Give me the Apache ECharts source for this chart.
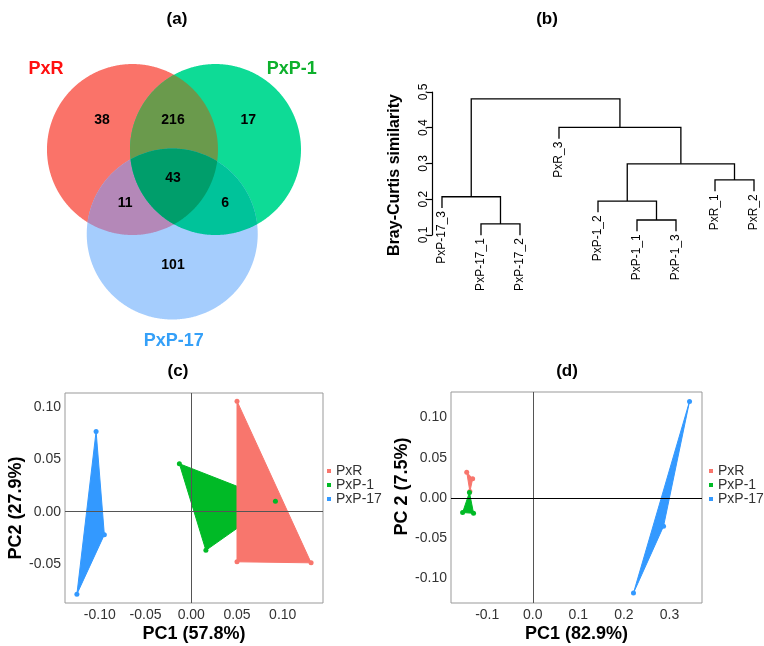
<!DOCTYPE html>
<html>
<head>
<meta charset="utf-8">
<title>Venn, dendrogram and PCA</title>
<script src="https://cdn.jsdelivr.net/npm/echarts@6.0.0/dist/echarts.min.js"></script>
<style>
    html, body { margin: 0; padding: 0; background: #fff; }
    #main { width: 764px; height: 646px; }
</style>
</head>
<body>
<div id="main"></div>
<script>
// (a) venn: shared species counts per region
const vennSets = ['PxR', 'PxP-1', 'PxP-17']
const vennRegionKeys = ['R', 'RG', 'G', 'RGB', 'RB', 'GB', 'B']
const vennCounts = [38, 216, 17, 43, 11, 6, 101]

// (b) dendrogram, leaves in plotted order, merges R hclust style (neg = leaf, pos = merge)
const leafLabels = ['PxP-17_3', 'PxP-17_1', 'PxP-17_2', 'PxR_3', 'PxP-1_2', 'PxP-1_1', 'PxP-1_3', 'PxR_1', 'PxR_2']
const mergeLeft = [-2, -6, -5, -1, -8, 3, -4, 4]
const mergeRight = [-3, -7, 2, 1, -9, 5, 6, 7]
const mergeHeight = [0.131, 0.142, 0.195, 0.207, 0.254, 0.299, 0.401, 0.481]
const similarityTicks = [0.1, 0.2, 0.3, 0.4, 0.5]

// (c) PCA
const groups = ['PxR', 'PxP-1', 'PxP-17']
const cPxR_PC1 = [0.050, 0.131, 0.050]
const cPxR_PC2 = [0.106, -0.049, -0.048]
const cP1_PC1 = [-0.013, 0.092, 0.016]
const cP1_PC2 = [0.046, 0.010, -0.037]
const cP17_PC1 = [-0.104, -0.095, -0.125]
const cP17_PC2 = [0.077, -0.022, -0.079]
const cTicksX = [-0.10, -0.05, 0, 0.05, 0.10]
const cTicksY = [-0.05, 0, 0.05, 0.10]

// (d) PCA
const dPxR_PC1 = [-0.145, -0.132, -0.138]
const dPxR_PC2 = [0.032, 0.024, 0.008]
const dP1_PC1 = [-0.139, -0.130, -0.154]
const dP1_PC2 = [0.007, -0.019, -0.018]
const dP17_PC1 = [0.344, 0.287, 0.221]
const dP17_PC2 = [0.120, -0.035, -0.118]
const dTicksX = [-0.1, 0, 0.1, 0.2, 0.3]
const dTicksY = [-0.10, -0.05, 0, 0.05, 0.10]

const FONT = 'Liberation Sans, Arial, sans-serif'
const groupColors = ['#F8766D', '#00BA26', '#3399FF']

// venn layout (unit radius circles)
const vennLayout = {
    R: [-0.474, 0.333],
    G: [0.497, 0.333],
    B: [-0.009, -0.655]
}
const vennLabelPos = [[-0.83, 0.68], [0, 0.68], [0.88, 0.68], [0, 0], [-0.56, -0.29], [0.61, -0.29], [0, -1.02]]
const vennNamePos = [[-1.485, 1.27], [1.39, 1.27], [0.01, -1.906]]
const vennNameColors = ['#FF1010', '#0DB02C', '#35A0F8']
const vennFill = {
    R: '#FA7369', G: '#0EDB96', B: '#A5CDFD',
    RG: '#6A9A4C', RB: '#B488B8', GB: '#00C39A', RGB: '#009E6B'
}

function inCircle(p, c) {
    return (p[0] - c[0]) ** 2 + (p[1] - c[1]) ** 2 <= 1 + 1e-9
}
// intersection of several unit circles as a convex polygon
function circleIntersection(keys) {
    const cs = keys.map(k => vennLayout[k])
    let pts = []
    cs.forEach((c, i) => {
        for (let k = 0; k < 720; k++) {
            const a = Math.PI * 2 * k / 720
            const p = [c[0] + Math.cos(a), c[1] + Math.sin(a)]
            if (cs.every((o, j) => j === i || inCircle(p, o))) pts.push(p)
        }
    })
    for (let i = 0; i < cs.length; i++) {
        for (let j = i + 1; j < cs.length; j++) {
            const a = cs[i], b = cs[j]
            const dx = b[0] - a[0], dy = b[1] - a[1]
            const d = Math.sqrt(dx * dx + dy * dy)
            const h = Math.sqrt(1 - d * d / 4)
            const mx = (a[0] + b[0]) / 2, my = (a[1] + b[1]) / 2
            ;[[mx - h * dy / d, my + h * dx / d], [mx + h * dy / d, my - h * dx / d]].forEach(p => {
                if (cs.every(o => inCircle(p, o))) pts.push(p)
            })
        }
    }
    const cx = pts.reduce((s, p) => s + p[0], 0) / pts.length
    const cy = pts.reduce((s, p) => s + p[1], 0) / pts.length
    pts.sort((p, q) => Math.atan2(p[1] - cy, p[0] - cx) - Math.atan2(q[1] - cy, q[0] - cx))
    return pts
}
const vennLayers = ['R', 'G', 'B', 'RG', 'RB', 'GB', 'RGB']
const vennPolys = vennLayers.map(k => circleIntersection(k.split('')))

// dendrogram node positions
const leafX = leafLabels.map((_, i) => i + 1)
const nodeX = []
function childX(k) { return k < 0 ? leafX[-k - 1] : nodeX[k - 1] }
mergeLeft.forEach((l, i) => { nodeX[i] = (childX(l) + childX(mergeRight[i])) / 2 })
const hang = 0.09 * (Math.max(...mergeHeight) - Math.min(...mergeHeight))
const leafEnd = []
mergeLeft.forEach((l, i) => {
    ;[l, mergeRight[i]].forEach(k => { if (k < 0) leafEnd[-k - 1] = mergeHeight[i] - hang })
})
function childTop(k) { return k < 0 ? leafEnd[-k - 1] : mergeHeight[k - 1] }

function polygonSeries(name, xs, ys, color, axis) {
    return {
        name,
        type: 'custom',
        xAxisIndex: axis,
        yAxisIndex: axis,
        itemStyle: { color },
        data: [[xs[0], ys[0]]],
        renderItem: (params, api) => ({
            type: 'polygon',
            shape: { points: xs.map((x, i) => api.coord([x, ys[i]])) },
            style: { fill: color, stroke: color, lineWidth: 1 }
        })
    }
}
function pointSeries(name, xs, ys, color, axis) {
    return {
        name,
        type: 'scatter',
        xAxisIndex: axis,
        yAxisIndex: axis,
        symbolSize: 5,
        itemStyle: { color, opacity: 1 },
        z: 3,
        data: xs.map((x, i) => [x, ys[i]])
    }
}
function zeroLines(axis, vColor, hColor) {
    return {
        type: 'scatter',
        xAxisIndex: axis,
        yAxisIndex: axis,
        data: [],
        z: 1,
        markLine: {
            silent: true,
            symbol: 'none',
            label: { show: false },
            data: [
                { xAxis: 0, lineStyle: { color: vColor, width: 1, type: 'solid' } },
                { yAxis: 0, lineStyle: { color: hColor, width: 1, type: 'solid' } }
            ]
        }
    }
}
function pcaAxisLabel(ticks, digits, margin) {
    return {
        customValues: ticks,
        formatter: v => v.toFixed(digits),
        fontSize: 14,
        color: '#333',
        fontFamily: FONT,
        margin
    }
}
const nameStyle = { fontSize: 18, fontWeight: 'bold', color: '#000', fontFamily: FONT }

const titles = [['(a)', 177], ['(b)', 547], ['(c)', 178], ['(d)', 567]].map((t, i) => ({
    text: t[0],
    left: t[1],
    top: i < 2 ? 11 : 363,
    textAlign: 'center',
    padding: 0,
    textStyle: { fontSize: 17, fontWeight: 'bold', color: '#000', fontFamily: FONT }
}))

const chart = echarts.init(document.getElementById('main'), null, { renderer: 'canvas' })

const option = {
    animation: false,
    backgroundColor: '#fff',
    title: titles,
    legend: [
        { left: 327, top: 464 },
        { left: 709, top: 464 }
    ].map(p => Object.assign({
        data: groups,
        orient: 'vertical',
        icon: 'rect',
        itemWidth: 4,
        itemHeight: 4,
        itemGap: 0,
        padding: 0,
        textStyle: { fontSize: 14, lineHeight: 14, color: '#333', fontFamily: FONT }
    }, p)),
    grid: [
        { left: 36.2, top: 41.2, width: 273.6, height: 307.8 },
        { left: 432, top: 92, width: 330, height: 143 },
        { left: 65, top: 393, width: 258, height: 210, show: true, borderColor: '#999', borderWidth: 1 },
        { left: 451, top: 392, width: 251, height: 211, show: true, borderColor: '#999', borderWidth: 1 }
    ],
    xAxis: [
        { gridIndex: 0, type: 'value', min: -1.6, max: 1.6, show: false },
        { gridIndex: 1, type: 'value', min: 0.744, max: 9.205, show: false },
        {
            gridIndex: 2, type: 'value', min: -0.138, max: 0.144,
            axisLine: { show: false }, axisTick: { show: false }, splitLine: { show: false },
            axisLabel: pcaAxisLabel(cTicksX, 2, 5),
            name: 'PC1 (57.8%)', nameLocation: 'middle', nameGap: 22, nameTextStyle: nameStyle
        },
        {
            gridIndex: 3, type: 'value', min: -0.1795, max: 0.3714,
            axisLine: { show: false }, axisTick: { show: false }, splitLine: { show: false },
            axisLabel: pcaAxisLabel(dTicksX, 1, 5),
            name: 'PC1 (82.9%)', nameLocation: 'middle', nameGap: 22, nameTextStyle: nameStyle
        }
    ],
    yAxis: [
        { gridIndex: 0, type: 'value', min: -2.0, max: 1.6, show: false },
        {
            gridIndex: 1, type: 'value', min: 0.1, max: 0.5, interval: 0.1,
            axisLine: { show: true, lineStyle: { color: '#000', width: 1.2 } },
            axisTick: { show: true, length: 5, lineStyle: { color: '#000', width: 1.2 } },
            splitLine: { show: false },
            axisLabel: {
                rotate: 90, margin: 2, fontSize: 12, color: '#000', fontFamily: FONT,
                customValues: similarityTicks,
                formatter: v => v.toFixed(1)
            },
            name: 'Bray-Curtis similarity', nameLocation: 'middle', nameRotate: 90, nameGap: 29,
            nameTextStyle: { fontSize: 16, fontWeight: 'bold', color: '#000', fontFamily: FONT, padding: [0, 23, 0, 0] }
        },
        {
            gridIndex: 2, type: 'value', min: -0.0875, max: 0.1138,
            axisLine: { show: false }, axisTick: { show: false }, splitLine: { show: false },
            axisLabel: pcaAxisLabel(cTicksY, 2, 4),
            name: 'PC2 (27.9%)', nameLocation: 'middle', nameRotate: 90, nameGap: 33,
            nameTextStyle: Object.assign({ padding: [0, 20, 0, 0] }, nameStyle)
        },
        {
            gridIndex: 3, type: 'value', min: -0.1304, max: 0.1317,
            axisLine: { show: false }, axisTick: { show: false }, splitLine: { show: false },
            axisLabel: pcaAxisLabel(dTicksY, 2, 4),
            name: 'PC 2 (7.5%)', nameLocation: 'middle', nameRotate: 90, nameGap: 33,
            nameTextStyle: Object.assign({ padding: [0, 0, 0, 22] }, nameStyle)
        }
    ],
    series: [
        // (a) venn regions
        {
            type: 'custom',
            xAxisIndex: 0,
            yAxisIndex: 0,
            silent: true,
            data: vennLayers.map(k => [vennLayout[k[0]][0], vennLayout[k[0]][1]]),
            renderItem: (params, api) => {
                const k = vennLayers[params.dataIndex]
                return {
                    type: 'polygon',
                    shape: { points: vennPolys[params.dataIndex].map(p => api.coord(p)) },
                    style: { fill: vennFill[k], stroke: null }
                }
            }
        },
        {
            type: 'scatter',
            xAxisIndex: 0,
            yAxisIndex: 0,
            symbolSize: 0,
            silent: true,
            z: 4,
            itemStyle: { opacity: 1 },
            data: vennCounts.map((v, i) => ({ value: vennLabelPos[i], count: v })),
            label: {
                show: true,
                position: 'inside',
                formatter: p => vennCounts[p.dataIndex],
                fontSize: 14,
                fontWeight: 'bold',
                color: '#000',
                opacity: 1,
                textBorderWidth: 0,
                fontFamily: FONT
            }
        },
        {
            type: 'scatter',
            xAxisIndex: 0,
            yAxisIndex: 0,
            symbolSize: 0,
            silent: true,
            z: 4,
            itemStyle: { opacity: 1 },
            data: vennSets.map((s, i) => ({
                value: vennNamePos[i],
                label: { color: vennNameColors[i] }
            })),
            label: {
                show: true,
                position: 'inside',
                formatter: p => vennSets[p.dataIndex],
                fontSize: 18,
                fontWeight: 'bold',
                opacity: 1,
                textBorderWidth: 0,
                fontFamily: FONT
            }
        },
        // (b) dendrogram links
        {
            type: 'custom',
            xAxisIndex: 1,
            yAxisIndex: 1,
            silent: true,
            data: mergeHeight.map((h, i) => [nodeX[i], h]),
            renderItem: (params, api) => {
                const i = params.dataIndex
                const l = mergeLeft[i], r = mergeRight[i], h = mergeHeight[i]
                const pts = [
                    [childX(l), childTop(l)], [childX(l), h],
                    [childX(r), h], [childX(r), childTop(r)]
                ].map(p => api.coord(p))
                return {
                    type: 'polyline',
                    shape: { points: pts },
                    style: { stroke: '#000', lineWidth: 1.3, fill: null }
                }
            }
        },
        // (b) leaf labels
        {
            type: 'custom',
            xAxisIndex: 1,
            yAxisIndex: 1,
            silent: true,
            data: leafLabels.map((_, i) => [leafX[i], leafEnd[i]]),
            renderItem: (params, api) => {
                const p = api.coord([api.value(0), api.value(1)])
                return {
                    type: 'text',
                    x: p[0],
                    y: p[1] + 3,
                    rotation: Math.PI / 2,
                    style: {
                        text: leafLabels[params.dataIndex],
                        align: 'right',
                        verticalAlign: 'middle',
                        fontSize: 12,
                        fontFamily: FONT,
                        fill: '#000'
                    }
                }
            }
        },
        // (c)
        zeroLines(2, '#555', '#555'),
        polygonSeries('PxP-1', cP1_PC1, cP1_PC2, groupColors[1], 2),
        polygonSeries('PxR', cPxR_PC1, cPxR_PC2, groupColors[0], 2),
        polygonSeries('PxP-17', cP17_PC1, cP17_PC2, groupColors[2], 2),
        pointSeries('PxR', cPxR_PC1, cPxR_PC2, groupColors[0], 2),
        pointSeries('PxP-1', cP1_PC1, cP1_PC2, groupColors[1], 2),
        pointSeries('PxP-17', cP17_PC1, cP17_PC2, groupColors[2], 2),
        // (d)
        zeroLines(3, '#555', '#000'),
        polygonSeries('PxR', dPxR_PC1, dPxR_PC2, groupColors[0], 3),
        polygonSeries('PxP-1', dP1_PC1, dP1_PC2, groupColors[1], 3),
        polygonSeries('PxP-17', dP17_PC1, dP17_PC2, groupColors[2], 3),
        pointSeries('PxR', dPxR_PC1, dPxR_PC2, groupColors[0], 3),
        pointSeries('PxP-1', dP1_PC1, dP1_PC2, groupColors[1], 3),
        pointSeries('PxP-17', dP17_PC1, dP17_PC2, groupColors[2], 3)
    ]
}

chart.setOption(option)
window.addEventListener('resize', () => chart.resize())
</script>
</body>
</html>
